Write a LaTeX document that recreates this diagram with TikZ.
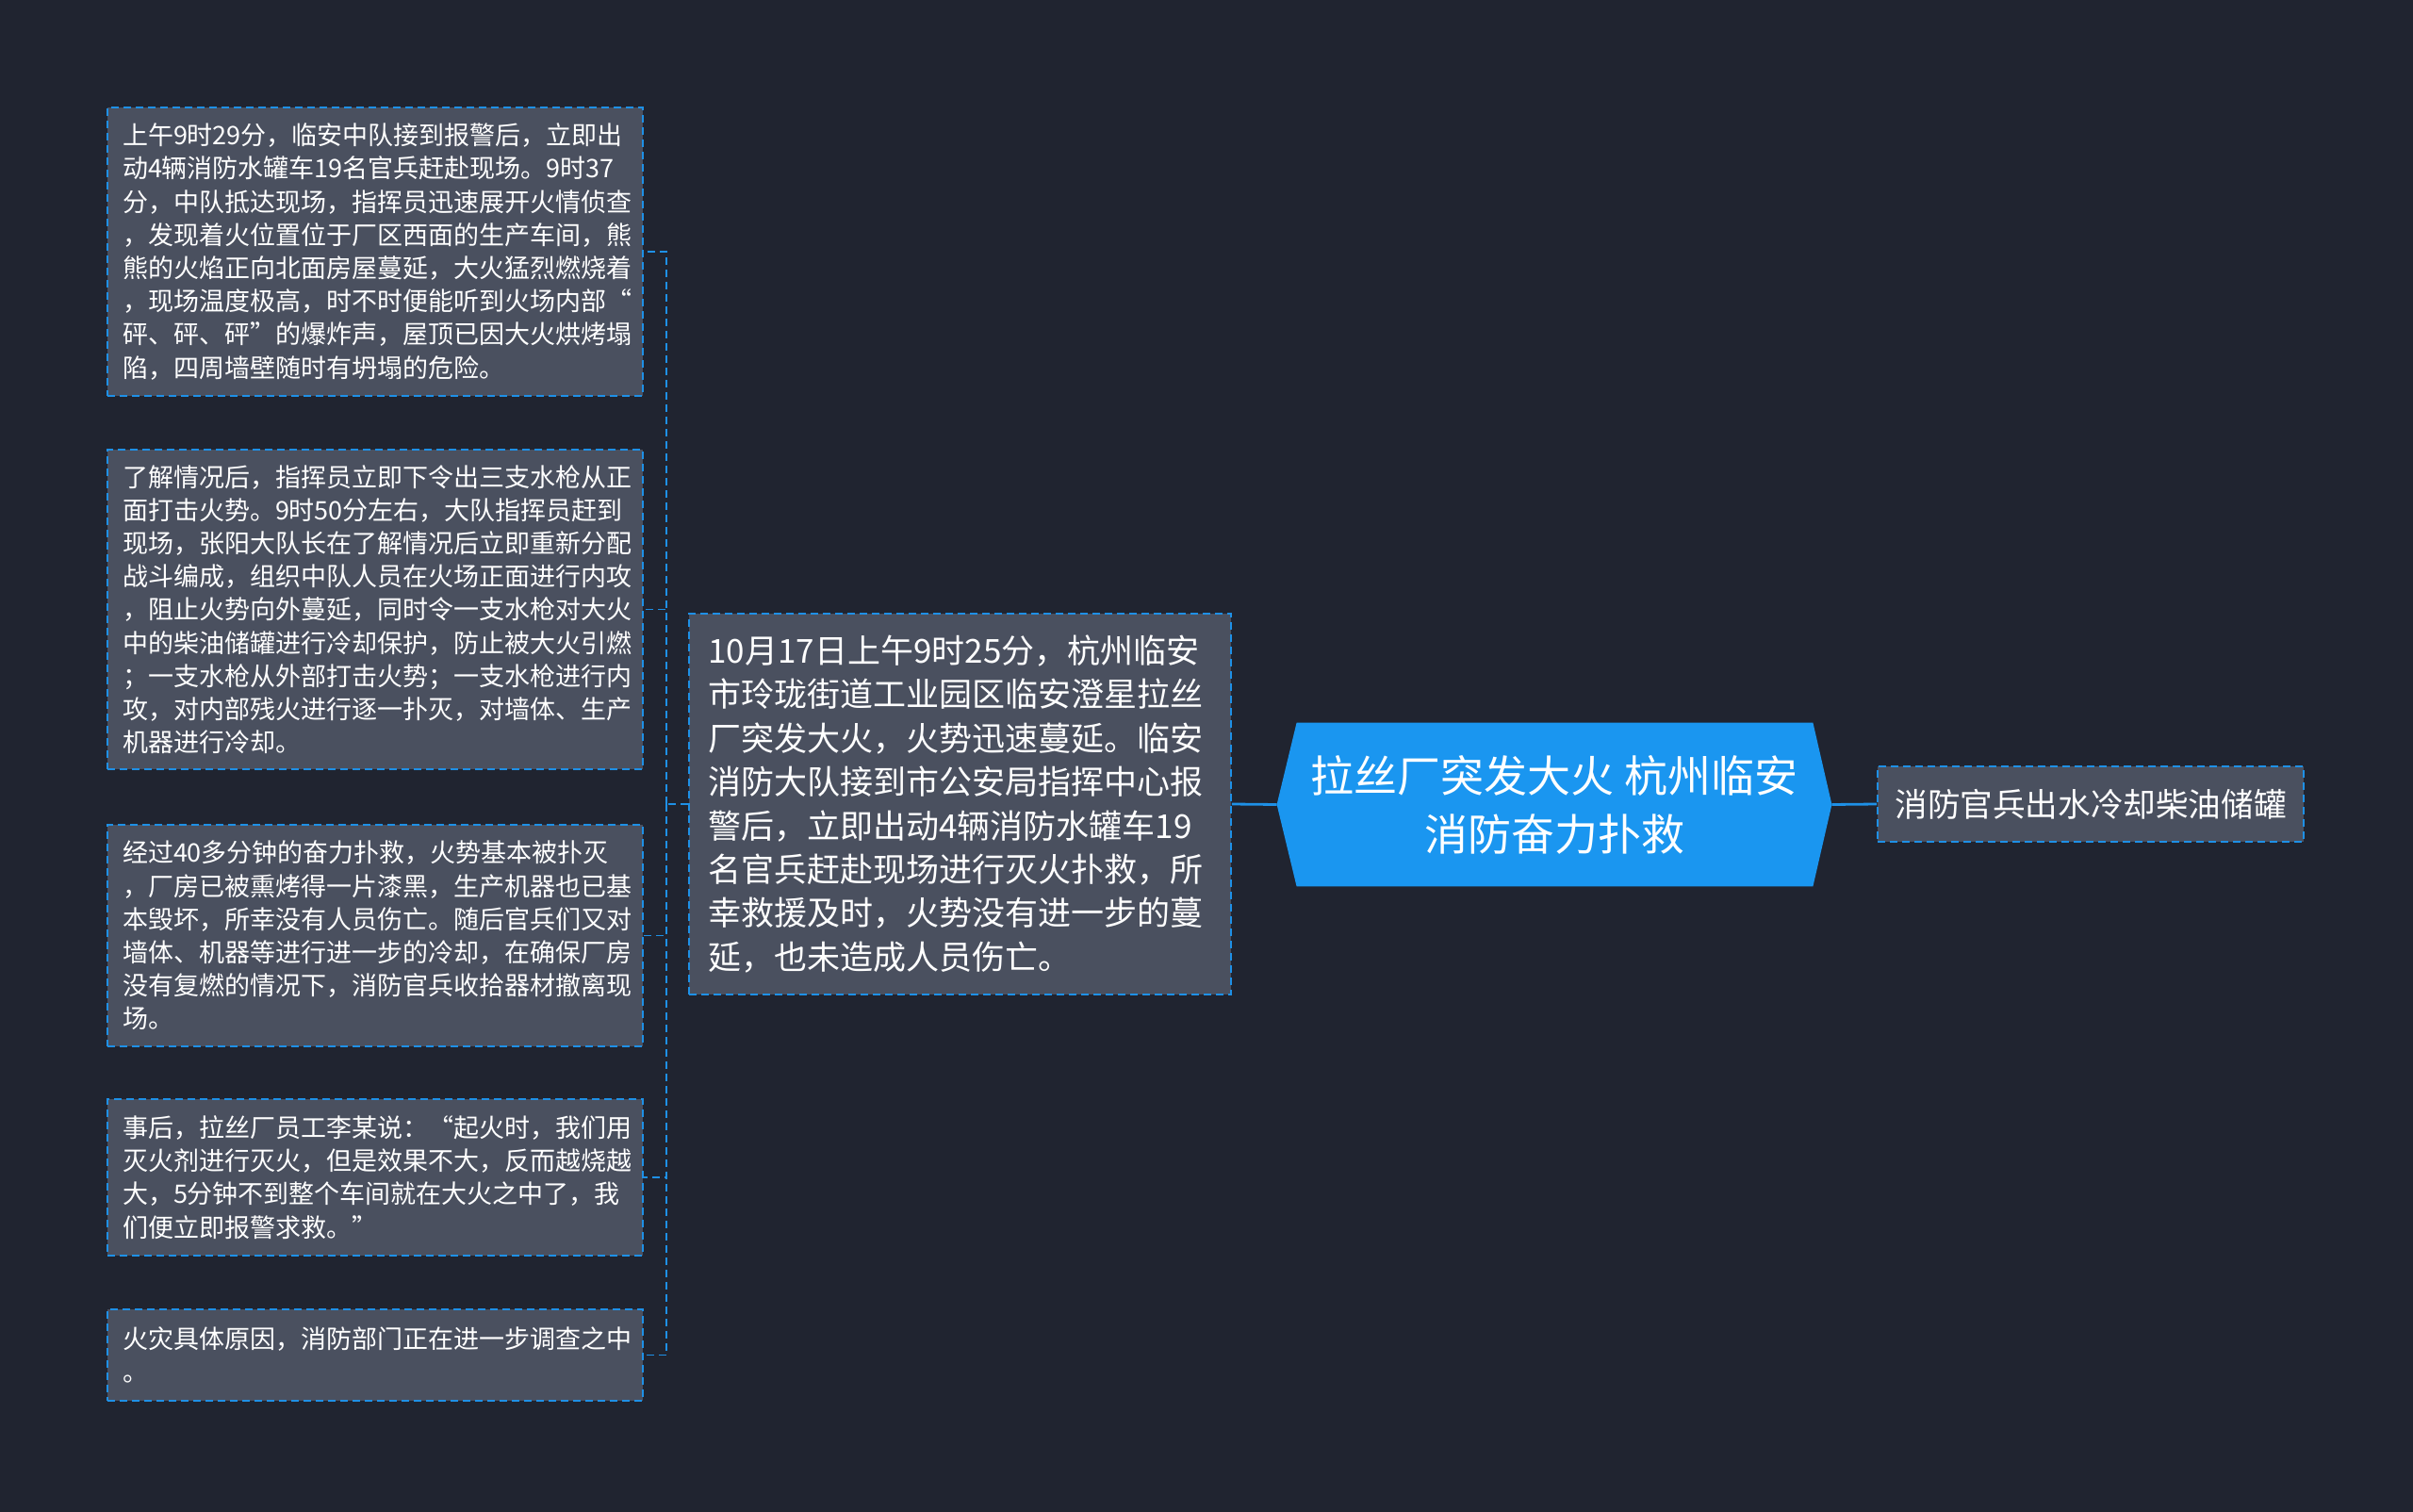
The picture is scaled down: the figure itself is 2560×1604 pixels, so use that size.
\documentclass[tikz,border=0pt]{standalone}
\usepackage{fontspec}
\setmainfont{Noto Sans CJK SC}
\usetikzlibrary{backgrounds}
\definecolor{bgdark}{RGB}{32,36,48}
\definecolor{boxgrey}{RGB}{74,80,95}
\definecolor{lineblue}{RGB}{30,144,230}
\definecolor{rootblue}{RGB}{26,150,240}
\tikzset{
  dashline/.style={draw=lineblue, line width=0.8pt, dash pattern=on 4pt off 2.5pt},
  leaf/.style={dashline, fill=boxgrey, inner sep=0pt, minimum width=284pt, text width=268pt,
    align=left, text=white, font=\fontsize{13.5pt}{17.6pt}\selectfont},
  mid/.style={dashline, fill=boxgrey, inner sep=0pt, minimum width=287.5pt, minimum height=202pt,
    text width=267pt, align=left, text=white, font=\fontsize{17.5pt}{23.2pt}\selectfont},
  rootbox/.style={inner sep=0pt, minimum width=294pt, minimum height=86.5pt, align=center,
    text=white, font=\fontsize{23pt}{31pt}\selectfont},
  rightbox/.style={dashline, fill=boxgrey, inner sep=0pt, minimum width=226pt, minimum height=40pt,
    text=white, font=\fontsize{17.3pt}{22pt}\selectfont},
  solidline/.style={draw=lineblue, line width=1.4pt}
}
\begin{document}
\begin{tikzpicture}[x=0.5pt,y=-0.5pt]
\begin{scope}[on background layer]
\fill[bgdark] (0,0) rectangle (2560,1604);
\end{scope}
\useasboundingbox (0,0) rectangle (2560,1604);

\node[leaf, minimum height=153pt] (b1) at (398,267) {上午9时29分，临安中队接到报警后，立即出\\动4辆消防水罐车19名官兵赶赴现场。9时37\\分，中队抵达现场，指挥员迅速展开火情侦查\\，发现着火位置位于厂区西面的生产车间，熊\\熊的火焰正向北面房屋蔓延，大火猛烈燃烧着\\，现场温度极高，时不时便能听到火场内部“\\砰、砰、砰”的爆炸声，屋顶已因大火烘烤塌\\陷，四周墙壁随时有坍塌的危险。};
\node[leaf, minimum height=169.5pt] (b2) at (398,646.5) {了解情况后，指挥员立即下令出三支水枪从正\\面打击火势。9时50分左右，大队指挥员赶到\\现场，张阳大队长在了解情况后立即重新分配\\战斗编成，组织中队人员在火场正面进行内攻\\，阻止火势向外蔓延，同时令一支水枪对大火\\中的柴油储罐进行冷却保护，防止被大火引燃\\；一支水枪从外部打击火势；一支水枪进行内\\攻，对内部残火进行逐一扑灭，对墙体、生产\\机器进行冷却。};
\node[leaf, minimum height=117.5pt] (b3) at (398,992.5) {经过40多分钟的奋力扑救，火势基本被扑灭\\，厂房已被熏烤得一片漆黑，生产机器也已基\\本毁坏，所幸没有人员伤亡。随后官兵们又对\\墙体、机器等进行进一步的冷却，在确保厂房\\没有复燃的情况下，消防官兵收拾器材撤离现\\场。};
\node[leaf, minimum height=83pt] (b4) at (398,1249) {事后，拉丝厂员工李某说：“起火时，我们用\\灭火剂进行灭火，但是效果不大，反而越烧越\\大，5分钟不到整个车间就在大火之中了，我\\们便立即报警求救。”};
\node[leaf, minimum height=48.5pt] (b5) at (398,1437.5) {火灾具体原因，消防部门正在进一步调查之中\\。};

\node[mid] (c) at (1018.5,853) {10月17日上午9时25分，杭州临安\\市玲珑街道工业园区临安澄星拉丝\\厂突发大火，火势迅速蔓延。临安\\消防大队接到市公安局指挥中心报\\警后，立即出动4辆消防水罐车19\\名官兵赶赴现场进行灭火扑救，所\\幸救援及时，火势没有进一步的蔓\\延，也未造成人员伤亡。};

\node[rootbox] (root) at (1649,853.5) {拉丝厂突发大火 杭州临安\\消防奋力扑救};
\begin{scope}[on background layer]
\fill[rootblue] (root.west) -- ([xshift=10.5pt]root.north west) -- ([xshift=-10pt]root.north east)
  -- (root.east) -- ([xshift=-10pt]root.south east) -- ([xshift=10.5pt]root.south west) -- cycle;
\end{scope}

\node[rightbox] (r) at (2218,853) {消防官兵出水冷却柴油储罐};

\coordinate (j) at (707,853);
\draw[dashline] (c.west) -- (j);
\draw[dashline] (j) |- (b1.east);
\draw[dashline] (j) |- (b2.east);
\draw[dashline] (j) |- (b3.east);
\draw[dashline] (j) |- (b4.east);
\draw[dashline] (j) |- (b5.east);
\draw[solidline] (c.east) -- (root.west);
\draw[solidline] (root.east) -- (r.west);
\end{tikzpicture}
\end{document}
